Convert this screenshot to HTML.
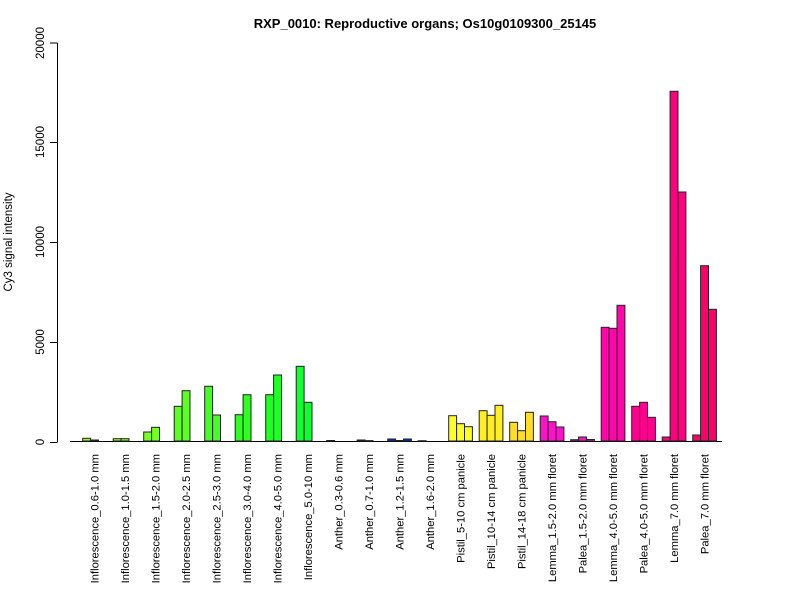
<!DOCTYPE html>
<html><head><meta charset="utf-8"><style>html,body{margin:0;padding:0;background:#fff}svg{display:block}text{font-family:"Liberation Sans",Arial,sans-serif;fill:#000}</style></head>
<body>
<svg width="800" height="600" viewBox="0 0 800 600" xmlns="http://www.w3.org/2000/svg">
<text x="425" y="28" font-size="13" font-weight="bold" text-anchor="middle">RXP_0010: Reproductive organs; Os10g0109300_25145</text>
<g stroke="#000" stroke-width="1" fill="none">
<line x1="57.5" y1="43" x2="57.5" y2="442"/>
<line x1="50" y1="442.5" x2="57.5" y2="442.5"/>
<line x1="50" y1="342.5" x2="57.5" y2="342.5"/>
<line x1="50" y1="242.5" x2="57.5" y2="242.5"/>
<line x1="50" y1="142.5" x2="57.5" y2="142.5"/>
<line x1="50" y1="43" x2="57.5" y2="43"/>
<line x1="70" y1="441.5" x2="722" y2="441.5"/>
</g>
<g font-size="11.5" text-anchor="middle">
<text transform="translate(44,442) rotate(-90)">0</text>
<text transform="translate(44,342) rotate(-90)">5000</text>
<text transform="translate(44,242) rotate(-90)">10000</text>
<text transform="translate(44,142) rotate(-90)">15000</text>
<text transform="translate(44,43) rotate(-90)">20000</text>
<text transform="translate(12,242) rotate(-90)">Cy3 signal intensity</text>
</g>
<g id="bars" stroke="#222" stroke-width="1"></g>
<g id="labels" font-size="11.2" text-anchor="end"></g>
<script>
var g=[
["Inflorescence_0.6-1.0 mm","#99ff22",[438.3,440,441]],
["Inflorescence_1.0-1.5 mm","#88ff22",[438.7,438.7,441]],
["Inflorescence_1.5-2.0 mm","#77ff22",[432,427.3,441]],
["Inflorescence_2.0-2.5 mm","#5cff22",[406.3,390.7,441]],
["Inflorescence_2.5-3.0 mm","#44ff22",[386.3,415,441]],
["Inflorescence_3.0-4.0 mm","#30ff22",[414.7,394.7,441]],
["Inflorescence_4.0-5.0 mm","#1eff22",[394.7,375,441]],
["Inflorescence_5.0-10 mm","#10ff30",[366.3,402.3,441]],
["Anther_0.3-0.6 mm","#000033",[440.5,441,441]],
["Anther_0.7-1.0 mm","#001a66",[440,440.6,441]],
["Anther_1.2-1.5 mm","#0033cc",[439,440.5,439]],
["Anther_1.6-2.0 mm","#000011",[440.7,441,441]],
["Pistil_5-10 cm panicle","#ffff22",[415.7,423.7,426.7]],
["Pistil_10-14 cm panicle","#ffee22",[410.7,415.3,405.3]],
["Pistil_14-18 cm panicle","#ffdd22",[422.3,430.7,412.3]],
["Lemma_1.5-2.0 mm floret","#ff11cc",[416,421.7,427]],
["Palea_1.5-2.0 mm floret","#ff11bb",[439.7,437,439.5]],
["Lemma_4.0-5.0 mm floret","#ff05aa",[327.3,328.3,305.3]],
["Palea_4.0-5.0 mm floret","#ff0090",[406.3,402.3,417.3]],
["Lemma_7.0 mm floret","#ff0080",[437,91.3,192]],
["Palea_7.0 mm floret","#ff0068",[435,265.7,309.3]]];
var b=document.getElementById("bars"),l=document.getElementById("labels"),ns="http://www.w3.org/2000/svg";
g.forEach(function(d,i){var x0=82.7+30.5*i;
d[2].forEach(function(t,j){if(441-t<0.2)return;var r=document.createElementNS(ns,"rect");
r.setAttribute("x",x0+j*7.9);r.setAttribute("y",t);r.setAttribute("width",7.9);r.setAttribute("height",441-t);r.setAttribute("fill",d[1]);b.appendChild(r);});
var tx=document.createElementNS(ns,"text");tx.setAttribute("transform","translate("+(x0+16)+",454) rotate(-90)");tx.textContent=d[0];l.appendChild(tx);});
</script>
</svg>
</body></html>
